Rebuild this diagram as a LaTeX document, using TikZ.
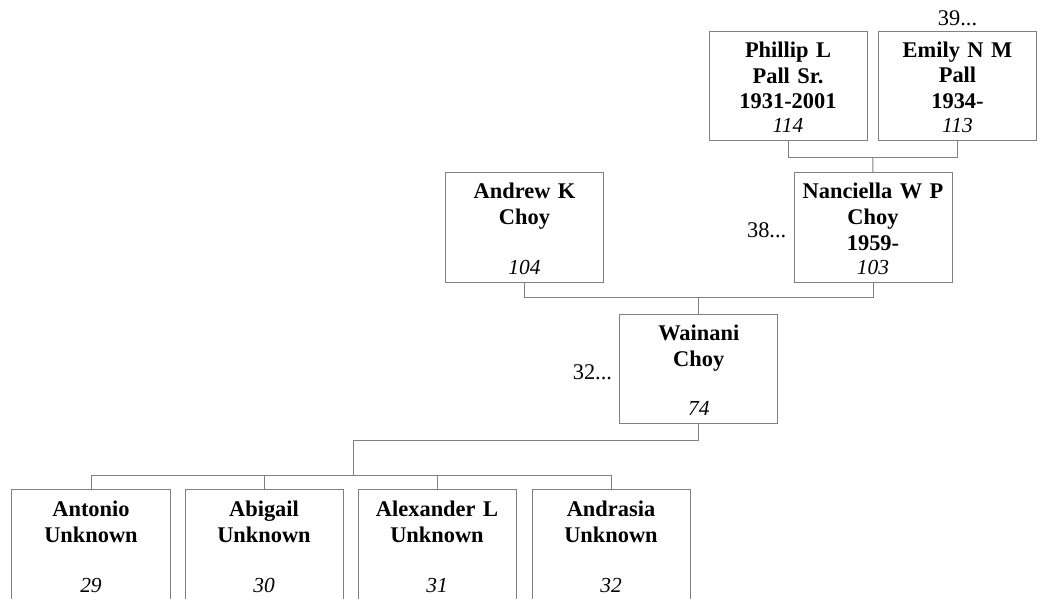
\documentclass[tikz,border=0pt]{standalone}
\usepackage{fontspec}
\setmainfont{Liberation Serif}
\usetikzlibrary{calc}
\definecolor{linegray}{RGB}{128,128,128}
\newcommand{\firstline}{\rule{0pt}{18bp}}
\newcommand{\numline}[1]{\\[-2bp]{\normalfont\itshape\fontsize{21.5}{24}\selectfont #1}}
\begin{document}
\begin{tikzpicture}[x=1bp,y=-1bp,
  person/.style={draw=linegray, line width=1bp, minimum width=158bp, minimum height=109bp,
    inner sep=0pt, text width=158bp, align=center,
    font=\fontsize{22.5}{26}\selectfont\bfseries},
  child/.style={person, minimum height=112bp},
  conn/.style={draw=linegray, line width=1bp},
  gen/.style={font=\fontsize{22.5}{26}\selectfont, inner sep=0pt}]
\useasboundingbox (0,0) rectangle (1041,599);
\clip (0,0) rectangle (1041,599);

% grandparents
\node[person] (phillip) at (788,86) {\firstline Phillip L\\Pall Sr.\\1931-2001\numline{114}};
\node[person] (emily) at (957.5,86) {\firstline Emily N M\\Pall\\1934-\numline{113}};
\node[gen, anchor=south] (g39) at ([yshift=5bp]emily.north) {39...};

% parents
\node[person] (andrew) at (524.5,227.5) {\firstline Andrew K\\Choy\\\mbox{}\numline{104}};
\node[person] (nanciella) at (873,227.5) {\firstline Nanciella W P\\Choy\\1959-\numline{103}};
\node[gen, anchor=east] (g38) at ([xshift=-7bp,yshift=-3bp]nanciella.west) {38...};

% Wainani
\node[person] (wainani) at (698.75,369) {\firstline Wainani\\Choy\\\mbox{}\numline{74}};
\node[gen, anchor=east] (g32) at ([xshift=-7bp,yshift=-3bp]wainani.west) {32...};

% children
\node[child] (antonio) at (91,545.5) {\firstline Antonio\\Unknown\\\mbox{}\numline{29}};
\node[child] (abigail) at (264,545.5) {\firstline Abigail\\Unknown\\\mbox{}\numline{30}};
\node[child] (alexander) at (437,545.5) {\firstline Alexander L\\Unknown\\\mbox{}\numline{31}};
\node[child] (andrasia) at (611,545.5) {\firstline Andrasia\\Unknown\\\mbox{}\numline{32}};

% connectors
\coordinate (j1) at ($(phillip.south)!0.5!(emily.south)+(0,16.5)$);
\draw[conn] (phillip.south) |- (j1) -| (emily.south);
\draw[conn] (j1) -- (nanciella.north);

\coordinate (j2) at ($(andrew.south)!0.5!(nanciella.south)+(0,15)$);
\draw[conn] (andrew.south) |- (j2) -| (nanciella.south);
\draw[conn] (j2) -- (wainani.north);

\coordinate (j3) at (353,440);
\coordinate (j4) at (353,475);
\draw[conn] (wainani.south) |- (j3) -- (j4);
\draw[conn] (antonio.north) -- (antonio.north |- j4) -- (andrasia.north |- j4) -- (andrasia.north);
\draw[conn] (abigail.north) -- (abigail.north |- j4);
\draw[conn] (alexander.north) -- (alexander.north |- j4);
\end{tikzpicture}
\end{document}
